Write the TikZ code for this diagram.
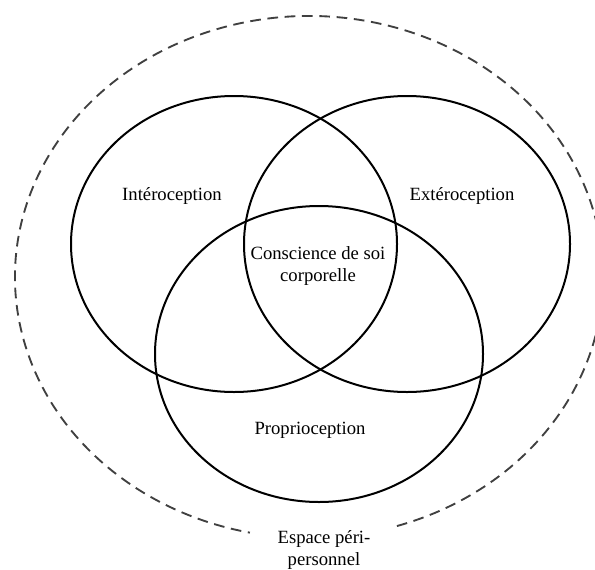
\documentclass[tikz,border=0pt]{standalone}
\usepackage{fontspec}
\setmainfont{Liberation Serif}
\usetikzlibrary{positioning}

\tikzset{
  sense/.style={line width=1.5pt},
  space/.style={line width=1.4pt, black!75, dash pattern=on 8pt off 5pt},
  lbl/.style={font=\fontsize{14}{16}\selectfont, align=center, inner sep=0pt}
}

\begin{document}
\begin{tikzpicture}[x=0.75pt,y=0.75pt]
    \useasboundingbox (0,0) rectangle (595,569);

    % Centres
    \coordinate (intero) at (234,325);
    \coordinate (extero) at (407,325);
    \coordinate (proprio) at (319,215);
    \coordinate (peri) at (309,292);

    % Ellipses
    \draw[sense] (intero) ellipse [x radius=163, y radius=148];
    \draw[sense] (extero) ellipse [x radius=163, y radius=148];
    \draw[sense] (proprio) ellipse [x radius=164, y radius=148];

    % Dashed space, open at the bottom
    \draw[space] (peri) ++(287.4:294 and 261) arc [start angle=287.4, end angle=618.4, x radius=294, y radius=261];

    % Labels
    \node[lbl] (lintero) at (172,373) {Intéroception};
    \node[lbl] (lextero) at (462,373) {Extéroception};
    \node[lbl] (lsoi) at (318,303) {Conscience de soi\\corporelle};
    \node[lbl] (lproprio) at (310,139) {Proprioception};
    \node[lbl] (lperi) at (324,19) {Espace péri-\\personnel};
\end{tikzpicture}
\end{document}
